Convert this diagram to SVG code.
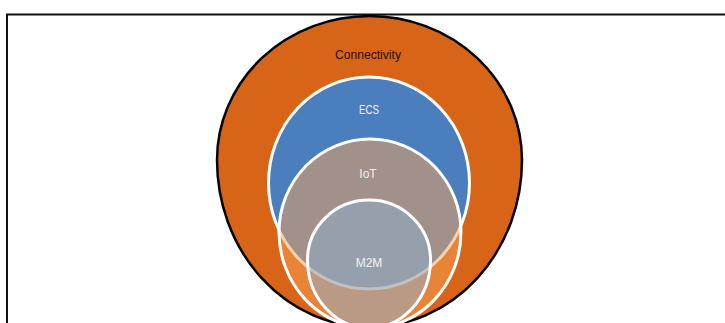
<svg xmlns="http://www.w3.org/2000/svg" width="725" height="323" viewBox="0 0 725 323">
  <style>
    .lbl { font-family: "Liberation Sans", Arial, sans-serif; font-size: 12px; text-anchor: middle; }
    .inner { stroke: #ffffff; stroke-width: 3; }
  </style>
  <rect x="0" y="0" width="725" height="323" fill="#ffffff"/>
  <path d="M7 330 V14.5 H730" fill="none" stroke="#111111" stroke-width="2"/>
  <g id="connectivity">
    <path d="M 369.5 16 A 152.5 144 0 0 0 217 160 A 152.5 167 0 0 0 369.5 327 A 152.5 167 0 0 0 522 160 A 152.5 144 0 0 0 369.5 16 Z" fill="#D86418" stroke="#000000" stroke-width="2.5"/>
    <text class="lbl" x="368" y="59" fill="#1c1208" textLength="66" lengthAdjust="spacingAndGlyphs">Connectivity</text>
  </g>
  <g id="ecs">
    <ellipse cx="369" cy="183" rx="100.5" ry="106" fill="#4A7EBC" class="inner"/>
    <text class="lbl" x="369" y="114" fill="#eef2f8" textLength="20" lengthAdjust="spacingAndGlyphs">ECS</text>
  </g>
  <g id="iot">
    <path d="M 370 139 A 91 93 0 0 0 279 232 A 91 96 0 0 0 370 328 A 91 96 0 0 0 461 232 A 91 93 0 0 0 370 139 Z" fill="#F7A458" fill-opacity="0.5" class="inner"/>
    <text class="lbl" x="368" y="178" fill="#f2eeeb">IoT</text>
  </g>
  <g id="m2m">
    <path d="M 369 200 A 61.5 60 0 0 0 307.5 260 A 61.5 68 0 0 0 369 328 A 61.5 68 0 0 0 430.5 260 A 61.5 60 0 0 0 369 200 Z" fill="#8BAFD0" fill-opacity="0.5" class="inner"/>
    <text class="lbl" x="369" y="266.5" fill="#f2f2f4">M2M</text>
  </g>
</svg>
